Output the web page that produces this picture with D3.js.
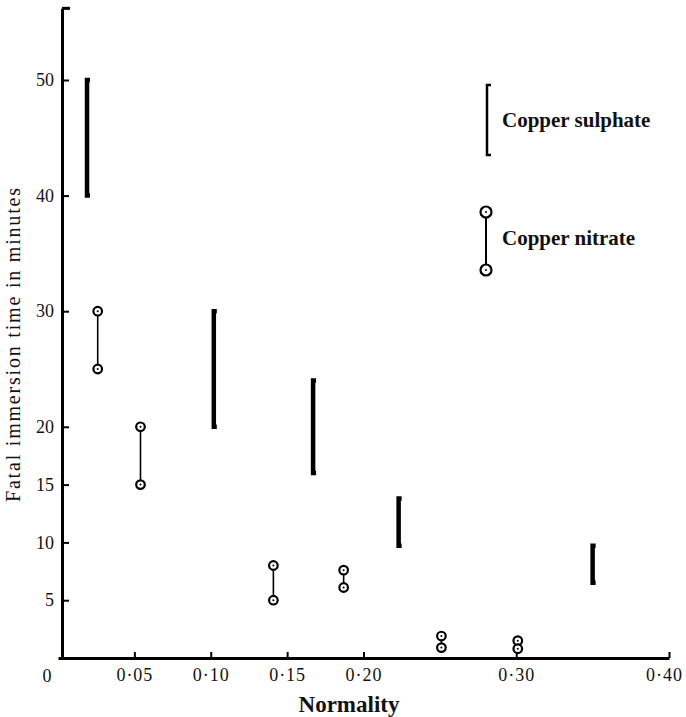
<!DOCTYPE html>
<html>
<head>
<meta charset="utf-8">
<script src="https://cdn.jsdelivr.net/npm/d3@7"></script>
<style>
  body { margin: 0; background: #fff; }
  svg text { font-family: "Liberation Serif", "Times New Roman", serif; fill: #111; }
</style>
</head>
<body>
<script>
// data
const sulphateX = [0.019, 0.102, 0.167, 0.223, 0.350];
const sulphateLow = [40, 20, 16, 9.7, 6.5];
const sulphateHigh = [50, 30, 24, 13.8, 9.7];

const nitrateX = [0.026, 0.054, 0.141, 0.187, 0.251, 0.301];
const nitrateLow = [25, 15, 5, 6.1, 0.9, 0.8];
const nitrateHigh = [30, 20, 8, 7.6, 1.9, 1.5];

const xTicks = [0.05, 0.10, 0.15, 0.20, 0.30, 0.40];
const xTickLabels = ['0·05', '0·10', '0·15', '0·20', '0·30', '0·40'];
const yTicks = [5, 10, 15, 20, 30, 40, 50];
const yTop = 56.2;

const W = 686, H = 717;
const axisX = 62;

let svg = d3.select('body').append('svg')
    .attr('width', W)
    .attr('height', H);

let x = d3.scaleLinear().domain([0, 0.40]).range([58, 669]);
let y = d3.scaleLinear().domain([0, 50]).range([658, 80]);

// x axis, ticks point up into the plot
let xAxis = svg.append('g')
    .attr('transform', 'translate(0,' + y(0) + ')')
    .call(d3.axisBottom(x).tickValues(xTicks)
        .tickFormat((d, i) => xTickLabels[i])
        .tickSizeInner(-6).tickSizeOuter(0).tickPadding(10));
xAxis.select('.domain').attr('stroke', '#000').attr('stroke-width', 3);
xAxis.selectAll('.tick line').attr('stroke', '#000').attr('stroke-width', 2);
xAxis.selectAll('.tick text').attr('font-size', 18).attr('letter-spacing', 1).attr('fill', '#111')
    .attr('dx', d => d === 0.40 ? -5 : 0);

// the lone origin label sits left of the corner
svg.append('text')
    .attr('x', 47).attr('y', y(0) + 24)
    .attr('text-anchor', 'middle')
    .attr('font-size', 18)
    .text('0');

// y axis, ticks point right
let yAxis = svg.append('g')
    .attr('transform', 'translate(' + axisX + ',0)')
    .call(d3.axisLeft(y.copy().domain([0, yTop]).range([y(0), y(yTop)]))
        .tickValues(yTicks)
        .tickSizeInner(-7).tickSizeOuter(0).tickPadding(8));
yAxis.select('.domain').attr('stroke', '#000').attr('stroke-width', 3);
yAxis.selectAll('.tick line').attr('stroke', '#000').attr('stroke-width', 2);
yAxis.selectAll('.tick text').attr('font-size', 18).attr('fill', '#111');

// little serif at top of y axis
svg.append('path')
    .attr('d', 'M' + axisX + ',' + y(yTop) + 'H' + (axisX + 8))
    .attr('stroke', '#000').attr('stroke-width', 3).attr('fill', 'none');

// axis titles
svg.append('text')
    .attr('transform', 'translate(20,345) rotate(-90)')
    .attr('text-anchor', 'middle')
    .attr('font-size', 20)
    .attr('textLength', 314)
    .attr('lengthAdjust', 'spacing')
    .text('Fatal immersion time in minutes');

svg.append('text')
    .attr('x', 349).attr('y', 712)
    .attr('text-anchor', 'middle')
    .attr('font-size', 23)
    .attr('font-weight', 'bold')
    .text('Normality');

// copper sulphate: bracket-like thick bars
let sulphate = sulphateX.map((v, i) => ({ x: v, lo: sulphateLow[i], hi: sulphateHigh[i] }));
svg.append('g').selectAll('path').data(sulphate).enter().append('path')
    .attr('d', d => 'M' + (x(d.x) + 3) + ',' + y(d.hi) + 'H' + x(d.x) + 'V' + y(d.lo) + 'H' + (x(d.x) + 3))
    .attr('fill', 'none')
    .attr('stroke', '#000')
    .attr('stroke-width', 4.5);

// copper nitrate: two ringed dots joined by a thin line
let nitrate = nitrateX.map((v, i) => ({ x: v, lo: nitrateLow[i], hi: nitrateHigh[i] }));
let ng = svg.append('g').selectAll('g').data(nitrate).enter().append('g');
ng.append('line')
    .attr('x1', d => x(d.x)).attr('x2', d => x(d.x))
    .attr('y1', d => y(d.hi)).attr('y2', d => y(d.lo))
    .attr('stroke', '#000').attr('stroke-width', 1.6);
function ring(sel, cx, cy, r) {
    sel.append('circle').attr('cx', cx).attr('cy', cy).attr('r', r)
        .attr('fill', '#fff').attr('stroke', '#000').attr('stroke-width', 2.2);
    sel.append('circle').attr('cx', cx).attr('cy', cy).attr('r', 1)
        .attr('fill', '#000');
}
ng.each(function (d) {
    let g = d3.select(this);
    ring(g, x(d.x), y(d.hi), 4.3);
    ring(g, x(d.x), y(d.lo), 4.3);
});

// legend
let lg = svg.append('g');
lg.append('path')
    .attr('d', 'M491,85H487V155H491')
    .attr('fill', 'none').attr('stroke', '#000').attr('stroke-width', 2.5);
lg.append('text')
    .attr('x', 502).attr('y', 127)
    .attr('font-size', 21).attr('font-weight', 'bold')
    .text('Copper sulphate');
lg.append('line')
    .attr('x1', 486).attr('x2', 486).attr('y1', 212).attr('y2', 270)
    .attr('stroke', '#000').attr('stroke-width', 2);
ring(lg, 486, 212, 5.5);
ring(lg, 486, 270, 5.5);
lg.append('text')
    .attr('x', 502).attr('y', 245)
    .attr('font-size', 21).attr('font-weight', 'bold')
    .text('Copper nitrate');
</script>
</body>
</html>
